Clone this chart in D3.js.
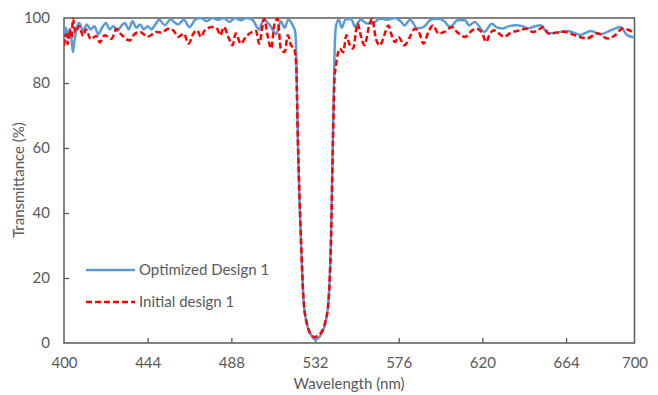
<!DOCTYPE html>
<html>
<head>
<meta charset="utf-8">
<script src="https://cdn.jsdelivr.net/npm/d3@7"></script>
<style>
  body { margin: 0; background: #fff; }
  text { font-family: Lato, "Open Sans", sans-serif; fill: #595959; }
</style>
</head>
<body>
<script>
var w = 658;
var h = 395;

// Optimized Design 1 (blue)
var optWl = [400, 401, 402, 403, 404, 404.7, 405.5, 407, 408, 410, 412, 414, 416, 418, 420,
  422, 424, 426, 428, 430, 432, 434, 436, 438, 440, 442, 444, 446, 448, 450, 453, 456, 460,
  463, 466, 469, 472, 475, 478, 481, 484, 487, 490, 493, 496, 499, 502.6, 505, 508, 511.6,
  514, 516, 518, 520.5, 521.5, 522.1, 523, 524.6, 526, 527.7, 529, 530.5, 532, 533.8, 535.5,
  537.4, 539.1, 540.4, 541.4, 542.3, 543, 544.5, 546, 548, 551, 553, 556, 559.5, 562.6, 566,
  570, 574, 577, 579, 582, 585.8, 589, 593, 597, 600, 603, 607, 611, 613, 616, 621, 625, 628,
  631, 634, 638, 641, 644, 647, 650.5, 654.7, 659, 664.7, 668, 671.6, 677, 682, 686, 690,
  692.6, 696, 700];
var optT = [93.5, 97, 94, 96.5, 93, 89.5, 93, 97.5, 98.5, 96, 98, 96.5, 97.5, 95, 97,
  98.5, 96.5, 97.5, 96, 97.5, 98.5, 96.5, 99, 97, 98, 96.5, 97.5, 96.5, 98, 99.5, 97.8, 99.5, 98,
  99.5, 97.2, 99.5, 100, 99, 100, 99.5, 100, 98.8, 100, 99.3, 100, 99.5, 96.5, 99.5, 98, 95,
  99, 97, 99.5, 97.5, 96, 90, 62, 32, 13, 6, 3.5, 2, 1, 1.5, 3,
  6, 13, 32, 62, 90, 97.5, 99.5, 97, 99.5, 99.8, 97.4, 99.5, 98.3, 98.4, 99.8,
  99.5, 100, 99, 97.7, 99.5, 96.8, 97.2, 99.5, 99.8, 99, 97.2, 99.3, 99.3, 97.7, 98.8, 95.7, 98.2, 97,
  96.8, 97.5, 97.8, 97.5, 96.8, 97.3, 97.8, 95.3, 95.5, 96, 95.5, 94.8, 96, 95, 95.8, 96.8,
  97.2, 94.8, 94];

// Initial design 1 (red dashed)
var initWl = [400, 401, 402, 403, 404, 404.7, 406, 408, 410, 411.6, 414, 417, 418.8, 421.4,
  425, 427.6, 430, 434.6, 437, 440, 444, 448.6, 451, 455, 457.5, 460, 463, 465.5, 468, 470,
  472, 474, 478, 480.5, 482.3, 484, 486.8, 488.6, 490.3, 493, 495.6, 499, 501, 502.6, 505.3,
  507, 509, 510.5, 512.3, 514, 516, 517.7, 519.4, 521, 522, 523, 524.6, 526, 527.7, 529,
  530.5, 532, 533.8, 535.5, 537.4, 539.1, 540.4, 541.4, 542.3, 543, 545, 546.8, 548.5, 550,
  552, 554.4, 556, 558, 560.5, 562, 564, 566, 569, 570.5, 572.3, 574, 575.8, 579, 581.9,
  584.5, 587, 589, 591.6, 594, 597, 600, 604, 606.6, 611, 614.6, 617, 620, 622, 623.6, 626,
  628.8, 631.5, 635, 639.5, 643, 646.6, 649, 652, 655, 659, 662.6, 668, 675, 680.5, 685.8,
  690, 693.7, 697, 700];
var initT = [91.5, 95, 92, 96.5, 94, 99.8, 95.5, 97.5, 94.5, 96.5, 93.5, 94.5, 92.5, 94.7,
  93.6, 96.7, 95, 93.1, 95, 95.7, 94.2, 95.7, 95.5, 96.7, 96.2, 94.2, 95.2, 92.1, 95.2, 96.2,
  94.2, 96.2, 97.2, 96.7, 94.7, 97.2, 93.6, 91.6, 95.2, 92.1, 94.2, 95.7, 96, 92.1, 99.8,
  94.7, 90.6, 97.7, 99.8, 90.6, 89.5, 94.7, 91.6, 90.6, 86.5, 62, 32, 13, 6, 3.5,
  2.2, 1.8, 2.5, 3.5, 6.5, 13, 32, 62, 82, 85.4, 90.6, 89.5, 94.7, 92.1,
  90.6, 98.3, 94.7, 91.6, 97.7, 99.8, 93.6, 91.6, 95.7, 97.7, 94.7, 92.6, 94.2, 91.6, 94.2,
  96.7, 95.2, 92.1, 95.7, 97.7, 95.2, 95.7, 97.2, 95.7, 94.2, 96.2, 96.7, 95.2, 92.6, 94.7, 96.2,
  95.2, 94.2, 95.5, 96.2, 96.7, 95.7, 96.2, 97.2, 95.2, 95.5, 95.8, 94.8, 93.7, 95.3, 93.7,
  94.8, 96.8, 96.3, 95.3];

var xTicks = [400, 444, 488, 532, 576, 620, 664, 700];
var yTicks = [0, 20, 40, 60, 80, 100];

// plot area edges (don't call it "top", window.top is taken)
var plotL = 64, plotR = 634.5, plotT = 18, plotB = 343;

var x = d3.scaleLinear().domain([400, 700]).range([plotL, plotR]);
var y = d3.scaleLinear().domain([0, 100]).range([plotB, plotT]);

var svg = d3.select("body")
            .append("svg")
              .attr("width", w)
              .attr("height", h);

svg.append("clipPath")
    .attr("id", "plot")
  .append("rect")
    .attr("x", plotL)
    .attr("y", plotT - 1)
    .attr("width", plotR - plotL)
    .attr("height", plotB - plotT + 1);

// axes with inside ticks
var xAxis = svg.append("g")
    .attr("transform", "translate(0," + plotB + ")")
    .call(d3.axisBottom(x).tickValues(xTicks).tickSizeInner(-5).tickSizeOuter(0).tickPadding(14));
var yAxis = svg.append("g")
    .attr("transform", "translate(" + plotL + ",0)")
    .call(d3.axisLeft(y).tickValues(yTicks).tickSizeInner(-5).tickSizeOuter(0).tickPadding(14));

[xAxis, yAxis].forEach(function(g) {
  g.selectAll(".domain").remove();
  g.selectAll("line").attr("stroke", "#595959").attr("stroke-width", 1.3);
  g.selectAll("text")
    .attr("font-family", "Lato, 'Open Sans', sans-serif")
    .attr("font-size", 15)
    .attr("fill", "#595959");
});
xAxis.selectAll(".tick").filter(function(d) { return d === 400 || d === 700; }).select("line").remove();
yAxis.selectAll(".tick").filter(function(d) { return d === 0 || d === 100; }).select("line").remove();

// plot box
svg.append("rect")
    .attr("x", plotL)
    .attr("y", plotT)
    .attr("width", plotR - plotL)
    .attr("height", plotB - plotT)
    .attr("fill", "none")
    .attr("stroke", "#595959")
    .attr("stroke-width", 1.5);

var line = d3.line()
    .x(function(d) { return x(d[0]); })
    .y(function(d) { return y(d[1]); })
    .curve(d3.curveMonotoneX);

svg.append("path")
    .datum(d3.zip(optWl, optT))
    .attr("clip-path", "url(#plot)")
    .attr("d", line)
    .attr("fill", "none")
    .attr("stroke", "#5B9BD5")
    .attr("stroke-width", 2.5);

svg.append("path")
    .datum(d3.zip(initWl, initT))
    .attr("clip-path", "url(#plot)")
    .attr("d", line)
    .attr("fill", "none")
    .attr("stroke", "#FF0000")
    .attr("stroke-width", 2.5)
    .attr("stroke-dasharray", "6,3");

// legend
var legend = svg.append("g");
legend.append("line")
    .attr("x1", 86).attr("x2", 135).attr("y1", 270).attr("y2", 270)
    .attr("stroke", "#5B9BD5").attr("stroke-width", 2.5);
legend.append("text")
    .attr("x", 139).attr("y", 275)
    .attr("font-size", 15)
    .text("Optimized Design 1");
legend.append("line")
    .attr("x1", 86).attr("x2", 135).attr("y1", 302).attr("y2", 302)
    .attr("stroke", "#FF0000").attr("stroke-width", 2.5)
    .attr("stroke-dasharray", "6,3");
legend.append("text")
    .attr("x", 139).attr("y", 307)
    .attr("font-size", 15)
    .text("Initial design 1");

// axis titles
svg.append("text")
    .attr("x", 349)
    .attr("y", 389)
    .attr("text-anchor", "middle")
    .attr("font-size", 15)
    .text("Wavelength (nm)");

svg.append("text")
    .attr("transform", "translate(24,180) rotate(-90)")
    .attr("text-anchor", "middle")
    .attr("font-size", 15)
    .text("Transmittance (%)");
</script>
</body>
</html>
